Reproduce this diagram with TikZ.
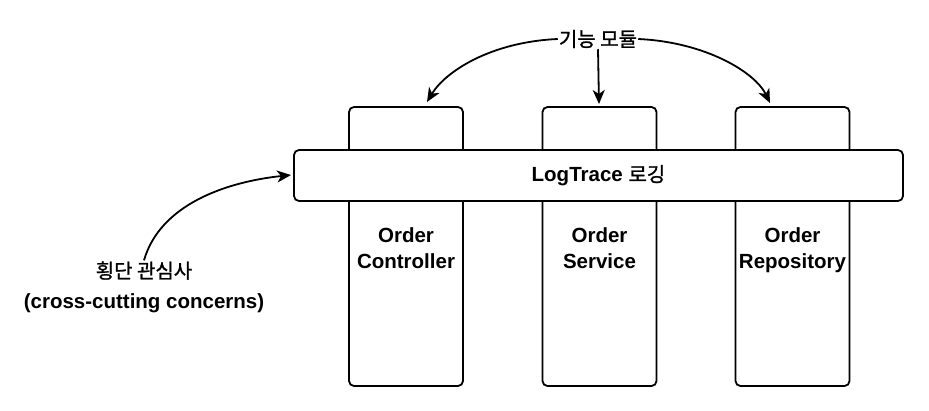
\documentclass[tikz,border=0pt]{standalone}
\usepackage{fontspec}
\setmainfont{Liberation Sans}
\newfontfamily\kr{Noto Sans CJK KR}[RawFeature={embolden=1.2}]
\usetikzlibrary{arrows.meta}
\begin{document}
\begin{tikzpicture}[x=1pt,y=-1pt,
  colbox/.style={draw=black,line width=1.8pt,rounded corners=5pt,fill=white,
    minimum width=114pt,minimum height=279pt,inner sep=0pt},
  coltext/.style={inner sep=0pt,align=center,
    font=\bfseries\fontsize{20.5}{26}\selectfont},
  barbox/.style={draw=black,line width=1.8pt,rounded corners=5pt,fill=white,
    minimum width=609pt,minimum height=51pt,inner sep=0pt,
    font=\bfseries\fontsize{20.5}{23}\selectfont},
  lbl/.style={inner sep=1pt,align=center},
  arr/.style={line width=1.8pt,-{Stealth[length=14pt,width=12pt,inset=4pt]}}]
\useasboundingbox (0,0) rectangle (929,410);
\node[colbox] (c1) at (406,246.5) {};
\node[colbox] (c2) at (599.5,246.5) {};
\node[colbox] (c3) at (792.5,246.5) {};
\node[coltext] (l1) at (406,250.5) {Order\strut\\Controller\strut};
\node[coltext] (l2) at (599.5,250.5) {Order\strut\\Service\strut};
\node[coltext] (l3) at (792.5,250.5) {Order\strut\\Repository\strut};
\node[barbox] (bar) at (598.5,175.5) {LogTrace {\kr\mdseries\fontsize{20}{23}\selectfont 로깅}};
\node[lbl,font=\kr\fontsize{20}{23}\selectfont] (top) at (598,39) {기능 모듈};
\node[lbl,font=\fontsize{20.5}{30}\selectfont] (cc) at (144,287) {{\kr\fontsize{20}{30}\selectfont 횡단 관심사}\\\textbf{(cross-cutting concerns)}};
\coordinate (t1) at (427,102);
\coordinate (t3) at (770,103);
\coordinate (t2) at (599,104);
\coordinate (tl) at (291,175);
\draw[arr] (top.west) .. controls (490,42) and (445,72) .. (t1);
\draw[arr] (top.east) .. controls (705,42) and (755,72) .. (t3);
\draw[arr] (top.south) -- (t2);
\draw[arr] (cc.north) .. controls (160,205) and (225,182) .. (tl);
\end{tikzpicture}
\end{document}
